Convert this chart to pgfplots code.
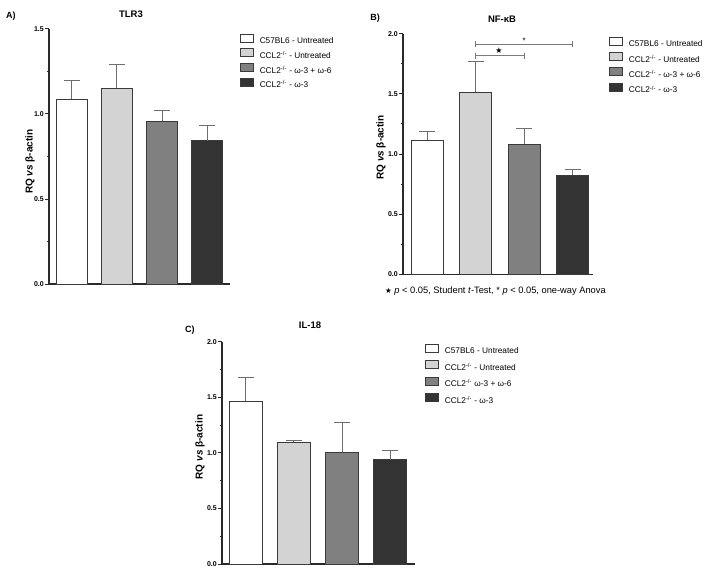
\documentclass[border=0pt]{standalone}
\usepackage{pgfplots}
\pgfplotsset{compat=1.18}
\usepackage{fontspec}
\setmainfont{Liberation Sans}
\newfontfamily\dejavu{DejaVu Sans}
\definecolor{cw}{HTML}{FFFFFF}
\definecolor{cl}{HTML}{D3D3D3}
\definecolor{cm}{HTML}{808080}
\definecolor{cd}{HTML}{333333}
\definecolor{edge}{HTML}{3A3A3A}
\definecolor{errc}{HTML}{6E6E6E}
\definecolor{axc}{HTML}{2A2A2A}
\definecolor{sigc}{HTML}{7A7A7A}
\pgfplotsset{
  panel/.style={
    scale only axis, axis x line*=bottom, axis y line*=left,
    axis line style={draw=axc, line width=1.1pt},
    xtick=\empty, ymin=0, enlargelimits=false, clip=false,
    ytick distance=0.5, minor y tick num=1,
    tick align=outside, major tick length=4pt, minor tick length=2.5pt,
    every tick/.style={draw=axc, line width=1pt},
    yticklabel style={font=\fontsize{7}{8}\selectfont\bfseries, inner sep=1pt},
    /pgf/number format/.cd, fixed, fixed zerofill, precision=1, assume math mode=true, /pgfplots/.cd,
    ylabel={RQ \textit{vs} β-actin},
    ylabel style={font=\fontsize{10}{11}\selectfont\bfseries, anchor=center},
    legend style={draw=none, fill=none, inner sep=0pt, outer sep=0pt, anchor=north west,
      font=\fontsize{8.3}{10}\selectfont, row sep=3pt, column sep=6pt,
      nodes={inner sep=0pt}},
    legend cell align=left,
    title style={font=\fontsize{9.5}{11}\selectfont\bfseries, anchor=center, yshift=-6pt},
  },
  bar/.style={ybar, bar shift=0pt, draw=edge, line width=0.9pt, fill=#1,
    legend image code/.code={\draw[fill=#1, draw=edge, line width=0.8pt] (0pt,-1pt) rectangle (13pt,7pt);},
    error bars/y dir=plus, error bars/y explicit, error bars/error mark=|,
    error bars/error bar style={draw=errc, line width=1pt},
    error bars/error mark options={draw=errc, line width=1pt, mark size=8pt}},
}
\begin{document}
\begin{tikzpicture}
\useasboundingbox (0pt,0pt) rectangle (708pt,574pt);
% Panel A
\begin{axis}[panel, at={(49pt,290pt)}, anchor=south west, width=181pt, height=255pt,
  xmin=-0.5, xmax=3.5, ymax=1.5, bar width=31pt,
  title={TLR3}, title style={at={(0.453,1.059)}},
  ylabel style={at={(-0.105,0.48)}},
  legend style={at={(1.055,0.98)}}]
\addplot[bar=cw] coordinates {(0,1.088) +- (0,0.108)};
\addlegendentry{C57BL6 - Untreated}
\addplot[bar=cl] coordinates {(1,1.151) +- (0,0.141)};
\addlegendentry{CCL2\textsuperscript{-/-} - Untreated}
\addplot[bar=cm] coordinates {(2,0.959) +- (0,0.063)};
\addlegendentry{CCL2\textsuperscript{-/-} - ω-3 + ω-6}
\addplot[bar=cd] coordinates {(3,0.843) +- (0,0.090)};
\addlegendentry{CCL2\textsuperscript{-/-} - ω-3}
\node[font=\fontsize{9}{10}\selectfont\bfseries] at (rel axis cs:-0.21,1.05) {A)};
\end{axis}
% Panel B
\begin{axis}[panel, at={(403pt,299.7pt)}, anchor=south west, width=190pt, height=240.6pt,
  xmin=-0.5, xmax=3.42, ymax=2, bar width=32pt,
  title={NF-κB}, title style={at={(0.521,1.061)}},
  ylabel style={at={(-0.116,0.527)}},
  legend style={at={(1.084,0.986)}, row sep=3.7pt}]
\addplot[bar=cw] coordinates {(0,1.116) +- (0,0.069)};
\addlegendentry{C57BL6 - Untreated}
\addplot[bar=cl] coordinates {(1,1.515) +- (0,0.255)};
\addlegendentry{CCL2\textsuperscript{-/-} - Untreated}
\addplot[bar=cm] coordinates {(2,1.083) +- (0,0.125)};
\addlegendentry{CCL2\textsuperscript{-/-} - ω-3 + ω-6}
\addplot[bar=cd] coordinates {(3,0.825) +- (0,0.044)};
\addlegendentry{CCL2\textsuperscript{-/-} - ω-3}
\addplot[draw=sigc, line width=1pt, mark=|, mark size=3pt, mark options={solid, line width=1pt}, forget plot] coordinates {(1,1.817) (2,1.817)};
\addplot[draw=sigc, line width=1pt, mark=|, mark size=3pt, mark options={solid, line width=1pt}, forget plot] coordinates {(1,1.912) (3,1.912)};
\node[font=\dejavu\fontsize{8}{9}\selectfont] at (axis cs:1.48,1.86) {★};
\node[font=\fontsize{8}{9}\selectfont] at (axis cs:2,1.945) {*};
\node[font=\fontsize{9}{10}\selectfont\bfseries] at (rel axis cs:-0.147,1.065) {B)};
\node[anchor=west, font=\fontsize{9.3}{10}\selectfont, inner sep=0pt] at (rel axis cs:-0.095,-0.069) {{\dejavu\fontsize{7.5}{8}\selectfont ★} \textit{p} < 0.05, Student \textit{t}-Test, * \textit{p} < 0.05, one-way Anova};
\end{axis}
% Panel C
\begin{axis}[panel, at={(222pt,10pt)}, anchor=south west, width=193pt, height=222.3pt,
  xmin=-0.49, xmax=3.51, ymax=2, bar width=33pt,
  title={IL-18}, title style={at={(0.456,1.075)}},
  ylabel style={at={(-0.114,0.526)}},
  legend style={at={(1.052,0.99)}, row sep=4.9pt}]
\addplot[bar=cw] coordinates {(0,1.466) +- (0,0.213)};
\addlegendentry{C57BL6 - Untreated}
\addplot[bar=cl] coordinates {(1,1.094) +- (0,0.021)};
\addlegendentry{CCL2\textsuperscript{-/-} - Untreated}
\addplot[bar=cm] coordinates {(2,1.004) +- (0,0.270)};
\addlegendentry{CCL2\textsuperscript{-/-} ω-3 + ω-6}
\addplot[bar=cd] coordinates {(3,0.939) +- (0,0.080)};
\addlegendentry{CCL2\textsuperscript{-/-} - ω-3}
\node[font=\fontsize{9}{10}\selectfont\bfseries] at (rel axis cs:-0.166,1.053) {C)};
\end{axis}
\end{tikzpicture}
\end{document}
